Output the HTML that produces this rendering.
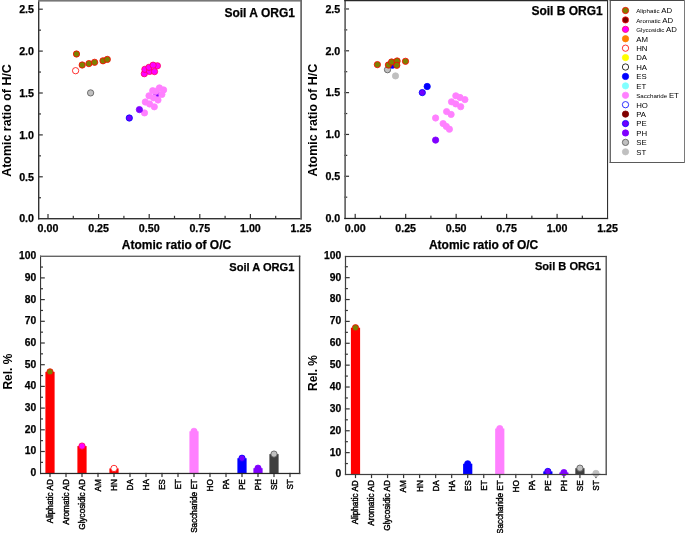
<!DOCTYPE html><html><head><meta charset="utf-8"><style>html,body{margin:0;padding:0;background:#fff;overflow:hidden;}svg{display:block;will-change:transform;}text{font-family:"Liberation Sans",sans-serif;fill:#000;}</style></head><body>
<svg width="685" height="533" viewBox="0 0 685 533">
<rect width="685" height="533" fill="#fff"/>
<rect x="47.4" y="214" width="1.2" height="4.5" fill="#333"/>
<rect x="72.7" y="215.8" width="1.2" height="2.7" fill="#333"/>
<rect x="98" y="214" width="1.2" height="4.5" fill="#333"/>
<rect x="123.3" y="215.8" width="1.2" height="2.7" fill="#333"/>
<rect x="148.6" y="214" width="1.2" height="4.5" fill="#333"/>
<rect x="173.9" y="215.8" width="1.2" height="2.7" fill="#333"/>
<rect x="199.2" y="214" width="1.2" height="4.5" fill="#333"/>
<rect x="224.5" y="215.8" width="1.2" height="2.7" fill="#333"/>
<rect x="249.8" y="214" width="1.2" height="4.5" fill="#333"/>
<rect x="275.1" y="215.8" width="1.2" height="2.7" fill="#333"/>
<text x="48" y="231.6" font-size="10.7" font-weight="bold" text-anchor="middle" stroke="#000" stroke-width="0.25" stroke-linejoin="round" >0.00</text>
<text x="98.6" y="231.6" font-size="10.7" font-weight="bold" text-anchor="middle" stroke="#000" stroke-width="0.25" stroke-linejoin="round" >0.25</text>
<text x="149.2" y="231.6" font-size="10.7" font-weight="bold" text-anchor="middle" stroke="#000" stroke-width="0.25" stroke-linejoin="round" >0.50</text>
<text x="199.8" y="231.6" font-size="10.7" font-weight="bold" text-anchor="middle" stroke="#000" stroke-width="0.25" stroke-linejoin="round" >0.75</text>
<text x="250.4" y="231.6" font-size="10.7" font-weight="bold" text-anchor="middle" stroke="#000" stroke-width="0.25" stroke-linejoin="round" >1.00</text>
<text x="301" y="231.6" font-size="10.7" font-weight="bold" text-anchor="middle" stroke="#000" stroke-width="0.25" stroke-linejoin="round" >1.25</text>
<rect x="38" y="197.15" width="3" height="1.2" fill="#333"/>
<rect x="38" y="176.2" width="4.8" height="1.2" fill="#333"/>
<rect x="38" y="155.25" width="3" height="1.2" fill="#333"/>
<rect x="38" y="134.3" width="4.8" height="1.2" fill="#333"/>
<rect x="38" y="113.35" width="3" height="1.2" fill="#333"/>
<rect x="38" y="92.4" width="4.8" height="1.2" fill="#333"/>
<rect x="38" y="71.45" width="3" height="1.2" fill="#333"/>
<rect x="38" y="50.5" width="4.8" height="1.2" fill="#333"/>
<rect x="38" y="29.55" width="3" height="1.2" fill="#333"/>
<rect x="38" y="8.6" width="4.8" height="1.2" fill="#333"/>
<text x="34" y="222.45" font-size="10.7" font-weight="bold" text-anchor="end" stroke="#000" stroke-width="0.25" stroke-linejoin="round" >0.0</text>
<text x="34" y="180.55" font-size="10.7" font-weight="bold" text-anchor="end" stroke="#000" stroke-width="0.25" stroke-linejoin="round" >0.5</text>
<text x="34" y="138.65" font-size="10.7" font-weight="bold" text-anchor="end" stroke="#000" stroke-width="0.25" stroke-linejoin="round" >1.0</text>
<text x="34" y="96.75" font-size="10.7" font-weight="bold" text-anchor="end" stroke="#000" stroke-width="0.25" stroke-linejoin="round" >1.5</text>
<text x="34" y="54.85" font-size="10.7" font-weight="bold" text-anchor="end" stroke="#000" stroke-width="0.25" stroke-linejoin="round" >2.0</text>
<text x="34" y="12.95" font-size="10.7" font-weight="bold" text-anchor="end" stroke="#000" stroke-width="0.25" stroke-linejoin="round" >2.5</text>
<text x="294.9" y="16.6" font-size="12.0" font-weight="bold" text-anchor="end" stroke="#000" stroke-width="0.25" stroke-linejoin="round" >Soil A ORG1</text>
<text x="176.5" y="249" font-size="12.0" font-weight="bold" text-anchor="middle" stroke="#000" stroke-width="0.25" stroke-linejoin="round" >Atomic ratio of O/C</text>
<text x="0" y="0" font-size="12.45" font-weight="bold" text-anchor="middle" transform="translate(10.8 120.5) rotate(-90)">Atomic ratio of H/C</text>
<circle cx="90.6" cy="92.9" r="3.15" fill="#c0c0c0" stroke="#555555" stroke-width="0.8"/>
<circle cx="75.6" cy="70.7" r="3.15" fill="#ffffff" stroke="#ff0000" stroke-width="0.8"/>
<circle cx="76.5" cy="54" r="3.15" fill="#7f7f00" stroke="#ff0000" stroke-width="0.8"/>
<circle cx="82.2" cy="65" r="3.15" fill="#7f7f00" stroke="#ff0000" stroke-width="0.8"/>
<circle cx="88.9" cy="63.6" r="3.15" fill="#7f7f00" stroke="#ff0000" stroke-width="0.8"/>
<circle cx="94.6" cy="62.3" r="3.15" fill="#7f7f00" stroke="#ff0000" stroke-width="0.8"/>
<circle cx="103" cy="60.8" r="3.15" fill="#7f7f00" stroke="#ff0000" stroke-width="0.8"/>
<circle cx="107.3" cy="59.4" r="3.15" fill="#7f7f00" stroke="#ff0000" stroke-width="0.8"/>
<circle cx="156.6" cy="93.8" r="3.15" fill="#8000ff" stroke="#8000ff" stroke-width="0.8"/>
<circle cx="144.5" cy="112.9" r="3.15" fill="#ff80ff" stroke="#ff80ff" stroke-width="0.8"/>
<circle cx="145.3" cy="102" r="3.15" fill="#ff80ff" stroke="#ff80ff" stroke-width="0.8"/>
<circle cx="149.6" cy="104" r="3.15" fill="#ff80ff" stroke="#ff80ff" stroke-width="0.8"/>
<circle cx="154.3" cy="106.8" r="3.15" fill="#ff80ff" stroke="#ff80ff" stroke-width="0.8"/>
<circle cx="149" cy="95.8" r="3.15" fill="#ff80ff" stroke="#ff80ff" stroke-width="0.8"/>
<circle cx="152.7" cy="90.7" r="3.15" fill="#ff80ff" stroke="#ff80ff" stroke-width="0.8"/>
<circle cx="158" cy="100" r="3.15" fill="#ff80ff" stroke="#ff80ff" stroke-width="0.8"/>
<circle cx="153.5" cy="97.8" r="3.15" fill="#ff80ff" stroke="#ff80ff" stroke-width="0.8"/>
<circle cx="161.9" cy="94.4" r="3.15" fill="#ff80ff" stroke="#ff80ff" stroke-width="0.8"/>
<circle cx="159.4" cy="87.9" r="3.15" fill="#ff80ff" stroke="#ff80ff" stroke-width="0.8"/>
<circle cx="163.6" cy="89.9" r="3.15" fill="#ff80ff" stroke="#ff80ff" stroke-width="0.8"/>
<circle cx="155.8" cy="91.3" r="3.15" fill="#ff80ff" stroke="#ff80ff" stroke-width="0.8"/>
<circle cx="129.3" cy="118" r="3.15" fill="#7000ff" stroke="#0000ff" stroke-width="0.8"/>
<circle cx="139.4" cy="109.6" r="3.15" fill="#8000ff" stroke="#8000ff" stroke-width="0.8"/>
<circle cx="144.3" cy="73.7" r="3.15" fill="#ff00ff" stroke="#ff0060" stroke-width="0.8"/>
<circle cx="144.9" cy="69.3" r="3.15" fill="#ff00ff" stroke="#ff0060" stroke-width="0.8"/>
<circle cx="149.6" cy="71.4" r="3.15" fill="#ff00ff" stroke="#ff0060" stroke-width="0.8"/>
<circle cx="149" cy="67.3" r="3.15" fill="#ff00ff" stroke="#ff0060" stroke-width="0.8"/>
<circle cx="154.5" cy="71.6" r="3.15" fill="#ff00ff" stroke="#ff0060" stroke-width="0.8"/>
<circle cx="157.4" cy="65.8" r="3.15" fill="#ff00ff" stroke="#ff0060" stroke-width="0.8"/>
<circle cx="153.1" cy="65.2" r="3.15" fill="#ff00ff" stroke="#ff0060" stroke-width="0.8"/>
<rect x="38" y="0" width="1.4" height="219.4" fill="#333"/>
<rect x="38" y="218" width="264" height="1.4" fill="#333"/>
<rect x="38" y="0" width="264" height="1.6" fill="#777"/>
<rect x="300.25" y="0" width="1.75" height="219.4" fill="#6a6a6a"/>
<rect x="354.6" y="213.85" width="1.2" height="4.5" fill="#333"/>
<rect x="379.84" y="215.65" width="1.2" height="2.7" fill="#333"/>
<rect x="405.07" y="213.85" width="1.2" height="4.5" fill="#333"/>
<rect x="430.31" y="215.65" width="1.2" height="2.7" fill="#333"/>
<rect x="455.55" y="213.85" width="1.2" height="4.5" fill="#333"/>
<rect x="480.79" y="215.65" width="1.2" height="2.7" fill="#333"/>
<rect x="506.02" y="213.85" width="1.2" height="4.5" fill="#333"/>
<rect x="531.26" y="215.65" width="1.2" height="2.7" fill="#333"/>
<rect x="556.5" y="213.85" width="1.2" height="4.5" fill="#333"/>
<rect x="581.74" y="215.65" width="1.2" height="2.7" fill="#333"/>
<text x="355.2" y="231.5" font-size="10.7" font-weight="bold" text-anchor="middle" stroke="#000" stroke-width="0.25" stroke-linejoin="round" >0.00</text>
<text x="405.68" y="231.5" font-size="10.7" font-weight="bold" text-anchor="middle" stroke="#000" stroke-width="0.25" stroke-linejoin="round" >0.25</text>
<text x="456.15" y="231.5" font-size="10.7" font-weight="bold" text-anchor="middle" stroke="#000" stroke-width="0.25" stroke-linejoin="round" >0.50</text>
<text x="506.62" y="231.5" font-size="10.7" font-weight="bold" text-anchor="middle" stroke="#000" stroke-width="0.25" stroke-linejoin="round" >0.75</text>
<text x="557.1" y="231.5" font-size="10.7" font-weight="bold" text-anchor="middle" stroke="#000" stroke-width="0.25" stroke-linejoin="round" >1.00</text>
<text x="607.58" y="231.5" font-size="10.7" font-weight="bold" text-anchor="middle" stroke="#000" stroke-width="0.25" stroke-linejoin="round" >1.25</text>
<rect x="344.25" y="196.59" width="3" height="1.2" fill="#333"/>
<rect x="344.25" y="175.67" width="4.8" height="1.2" fill="#333"/>
<rect x="344.25" y="154.76" width="3" height="1.2" fill="#333"/>
<rect x="344.25" y="133.85" width="4.8" height="1.2" fill="#333"/>
<rect x="344.25" y="112.94" width="3" height="1.2" fill="#333"/>
<rect x="344.25" y="92.02" width="4.8" height="1.2" fill="#333"/>
<rect x="344.25" y="71.11" width="3" height="1.2" fill="#333"/>
<rect x="344.25" y="50.2" width="4.8" height="1.2" fill="#333"/>
<rect x="344.25" y="29.29" width="3" height="1.2" fill="#333"/>
<rect x="344.25" y="8.37" width="4.8" height="1.2" fill="#333"/>
<text x="340.25" y="221.85" font-size="10.7" font-weight="bold" text-anchor="end" stroke="#000" stroke-width="0.25" stroke-linejoin="round" >0.0</text>
<text x="340.25" y="180.02" font-size="10.7" font-weight="bold" text-anchor="end" stroke="#000" stroke-width="0.25" stroke-linejoin="round" >0.5</text>
<text x="340.25" y="138.2" font-size="10.7" font-weight="bold" text-anchor="end" stroke="#000" stroke-width="0.25" stroke-linejoin="round" >1.0</text>
<text x="340.25" y="96.37" font-size="10.7" font-weight="bold" text-anchor="end" stroke="#000" stroke-width="0.25" stroke-linejoin="round" >1.5</text>
<text x="340.25" y="54.55" font-size="10.7" font-weight="bold" text-anchor="end" stroke="#000" stroke-width="0.25" stroke-linejoin="round" >2.0</text>
<text x="340.25" y="12.72" font-size="10.7" font-weight="bold" text-anchor="end" stroke="#000" stroke-width="0.25" stroke-linejoin="round" >2.5</text>
<text x="602.8" y="15.2" font-size="12.0" font-weight="bold" text-anchor="end" stroke="#000" stroke-width="0.25" stroke-linejoin="round" >Soil B ORG1</text>
<text x="483.6" y="249" font-size="12.0" font-weight="bold" text-anchor="middle" stroke="#000" stroke-width="0.25" stroke-linejoin="round" >Atomic ratio of O/C</text>
<text x="0" y="0" font-size="12.45" font-weight="bold" text-anchor="middle" transform="translate(317.3 120.2) rotate(-90)">Atomic ratio of H/C</text>
<circle cx="387.5" cy="69.7" r="3.15" fill="#c0c0c0" stroke="#555555" stroke-width="0.8"/>
<circle cx="395.5" cy="75.9" r="3.15" fill="#c0c0c0" stroke="#c0c0c0" stroke-width="0.8"/>
<circle cx="392.4" cy="65.2" r="3.15" fill="#0000ff" stroke="#0000ff" stroke-width="0.8"/>
<circle cx="377.4" cy="64.6" r="3.15" fill="#7f7f00" stroke="#ff0000" stroke-width="0.8"/>
<circle cx="388.4" cy="65" r="3.15" fill="#7f7f00" stroke="#ff0000" stroke-width="0.8"/>
<circle cx="391.6" cy="62" r="3.15" fill="#7f7f00" stroke="#ff0000" stroke-width="0.8"/>
<circle cx="397.1" cy="61" r="3.15" fill="#7f7f00" stroke="#ff0000" stroke-width="0.8"/>
<circle cx="396.8" cy="65.3" r="3.15" fill="#7f7f00" stroke="#ff0000" stroke-width="0.8"/>
<circle cx="405.5" cy="61.3" r="3.15" fill="#7f7f00" stroke="#ff0000" stroke-width="0.8"/>
<circle cx="427.2" cy="86.5" r="3.15" fill="#0000ff" stroke="#0000ff" stroke-width="0.8"/>
<circle cx="422.3" cy="92.6" r="3.15" fill="#7000ff" stroke="#0000ff" stroke-width="0.8"/>
<circle cx="435.6" cy="118" r="3.15" fill="#ff80ff" stroke="#ff80ff" stroke-width="0.8"/>
<circle cx="443.1" cy="123.6" r="3.15" fill="#ff80ff" stroke="#ff80ff" stroke-width="0.8"/>
<circle cx="446.3" cy="126.4" r="3.15" fill="#ff80ff" stroke="#ff80ff" stroke-width="0.8"/>
<circle cx="449.4" cy="129.2" r="3.15" fill="#ff80ff" stroke="#ff80ff" stroke-width="0.8"/>
<circle cx="446.6" cy="111.6" r="3.15" fill="#ff80ff" stroke="#ff80ff" stroke-width="0.8"/>
<circle cx="451.1" cy="114.4" r="3.15" fill="#ff80ff" stroke="#ff80ff" stroke-width="0.8"/>
<circle cx="451.5" cy="101.8" r="3.15" fill="#ff80ff" stroke="#ff80ff" stroke-width="0.8"/>
<circle cx="455.8" cy="103.9" r="3.15" fill="#ff80ff" stroke="#ff80ff" stroke-width="0.8"/>
<circle cx="460.7" cy="106.7" r="3.15" fill="#ff80ff" stroke="#ff80ff" stroke-width="0.8"/>
<circle cx="455.8" cy="95.8" r="3.15" fill="#ff80ff" stroke="#ff80ff" stroke-width="0.8"/>
<circle cx="460" cy="97.5" r="3.15" fill="#ff80ff" stroke="#ff80ff" stroke-width="0.8"/>
<circle cx="464.9" cy="99.6" r="3.15" fill="#ff80ff" stroke="#ff80ff" stroke-width="0.8"/>
<circle cx="435.6" cy="140.1" r="3.15" fill="#8000ff" stroke="#8000ff" stroke-width="0.8"/>
<rect x="344.25" y="0" width="1.75" height="219.1" fill="#6a6a6a"/>
<rect x="344.25" y="217.85" width="263.85" height="1.25" fill="#222"/>
<rect x="344.25" y="0" width="263.85" height="1.25" fill="#282828"/>
<rect x="607" y="0" width="1.1" height="219.1" fill="#303030"/>
<rect x="40" y="461.75" width="3" height="1.2" fill="#333"/>
<rect x="40" y="450.9" width="4.8" height="1.2" fill="#333"/>
<rect x="40" y="440.05" width="3" height="1.2" fill="#333"/>
<rect x="40" y="429.2" width="4.8" height="1.2" fill="#333"/>
<rect x="40" y="418.35" width="3" height="1.2" fill="#333"/>
<rect x="40" y="407.5" width="4.8" height="1.2" fill="#333"/>
<rect x="40" y="396.65" width="3" height="1.2" fill="#333"/>
<rect x="40" y="385.8" width="4.8" height="1.2" fill="#333"/>
<rect x="40" y="374.95" width="3" height="1.2" fill="#333"/>
<rect x="40" y="364.1" width="4.8" height="1.2" fill="#333"/>
<rect x="40" y="353.25" width="3" height="1.2" fill="#333"/>
<rect x="40" y="342.4" width="4.8" height="1.2" fill="#333"/>
<rect x="40" y="331.55" width="3" height="1.2" fill="#333"/>
<rect x="40" y="320.7" width="4.8" height="1.2" fill="#333"/>
<rect x="40" y="309.85" width="3" height="1.2" fill="#333"/>
<rect x="40" y="299" width="4.8" height="1.2" fill="#333"/>
<rect x="40" y="288.15" width="3" height="1.2" fill="#333"/>
<rect x="40" y="277.3" width="4.8" height="1.2" fill="#333"/>
<rect x="40" y="266.45" width="3" height="1.2" fill="#333"/>
<text x="36.3" y="476.15" font-size="10.3" font-weight="bold" text-anchor="end" stroke="#000" stroke-width="0.25" stroke-linejoin="round" >0</text>
<text x="36.3" y="454.45" font-size="10.3" font-weight="bold" text-anchor="end" stroke="#000" stroke-width="0.25" stroke-linejoin="round" >10</text>
<text x="36.3" y="432.75" font-size="10.3" font-weight="bold" text-anchor="end" stroke="#000" stroke-width="0.25" stroke-linejoin="round" >20</text>
<text x="36.3" y="411.05" font-size="10.3" font-weight="bold" text-anchor="end" stroke="#000" stroke-width="0.25" stroke-linejoin="round" >30</text>
<text x="36.3" y="389.35" font-size="10.3" font-weight="bold" text-anchor="end" stroke="#000" stroke-width="0.25" stroke-linejoin="round" >40</text>
<text x="36.3" y="367.65" font-size="10.3" font-weight="bold" text-anchor="end" stroke="#000" stroke-width="0.25" stroke-linejoin="round" >50</text>
<text x="36.3" y="345.95" font-size="10.3" font-weight="bold" text-anchor="end" stroke="#000" stroke-width="0.25" stroke-linejoin="round" >60</text>
<text x="36.3" y="324.25" font-size="10.3" font-weight="bold" text-anchor="end" stroke="#000" stroke-width="0.25" stroke-linejoin="round" >70</text>
<text x="36.3" y="302.55" font-size="10.3" font-weight="bold" text-anchor="end" stroke="#000" stroke-width="0.25" stroke-linejoin="round" >80</text>
<text x="36.3" y="280.85" font-size="10.3" font-weight="bold" text-anchor="end" stroke="#000" stroke-width="0.25" stroke-linejoin="round" >90</text>
<text x="36.3" y="259.15" font-size="10.3" font-weight="bold" text-anchor="end" stroke="#000" stroke-width="0.25" stroke-linejoin="round" >100</text>
<rect x="49.4" y="472.85" width="1.2" height="4.2" fill="#333"/>
<text x="0" y="0" font-size="8.2" text-anchor="end" stroke="#000" stroke-width="0.4" transform="translate(52.9 479.15) rotate(-90)">Aliphatic AD</text>
<rect x="65.4" y="472.85" width="1.2" height="4.2" fill="#333"/>
<text x="0" y="0" font-size="8.2" text-anchor="end" stroke="#000" stroke-width="0.4" transform="translate(68.9 479.15) rotate(-90)">Aromatic AD</text>
<rect x="81.4" y="472.85" width="1.2" height="4.2" fill="#333"/>
<text x="0" y="0" font-size="8.2" text-anchor="end" stroke="#000" stroke-width="0.4" transform="translate(84.9 479.15) rotate(-90)">Glycosidic AD</text>
<rect x="97.4" y="472.85" width="1.2" height="4.2" fill="#333"/>
<text x="0" y="0" font-size="8.2" text-anchor="end" stroke="#000" stroke-width="0.4" transform="translate(100.9 479.15) rotate(-90)">AM</text>
<rect x="113.4" y="472.85" width="1.2" height="4.2" fill="#333"/>
<text x="0" y="0" font-size="8.2" text-anchor="end" stroke="#000" stroke-width="0.4" transform="translate(116.9 479.15) rotate(-90)">HN</text>
<rect x="129.4" y="472.85" width="1.2" height="4.2" fill="#333"/>
<text x="0" y="0" font-size="8.2" text-anchor="end" stroke="#000" stroke-width="0.4" transform="translate(132.9 479.15) rotate(-90)">DA</text>
<rect x="145.4" y="472.85" width="1.2" height="4.2" fill="#333"/>
<text x="0" y="0" font-size="8.2" text-anchor="end" stroke="#000" stroke-width="0.4" transform="translate(148.9 479.15) rotate(-90)">HA</text>
<rect x="161.4" y="472.85" width="1.2" height="4.2" fill="#333"/>
<text x="0" y="0" font-size="8.2" text-anchor="end" stroke="#000" stroke-width="0.4" transform="translate(164.9 479.15) rotate(-90)">ES</text>
<rect x="177.4" y="472.85" width="1.2" height="4.2" fill="#333"/>
<text x="0" y="0" font-size="8.2" text-anchor="end" stroke="#000" stroke-width="0.4" transform="translate(180.9 479.15) rotate(-90)">ET</text>
<rect x="193.4" y="472.85" width="1.2" height="4.2" fill="#333"/>
<text x="0" y="0" font-size="8.2" text-anchor="end" stroke="#000" stroke-width="0.4" transform="translate(196.9 479.15) rotate(-90)">Saccharide ET</text>
<rect x="209.4" y="472.85" width="1.2" height="4.2" fill="#333"/>
<text x="0" y="0" font-size="8.2" text-anchor="end" stroke="#000" stroke-width="0.4" transform="translate(212.9 479.15) rotate(-90)">HO</text>
<rect x="225.4" y="472.85" width="1.2" height="4.2" fill="#333"/>
<text x="0" y="0" font-size="8.2" text-anchor="end" stroke="#000" stroke-width="0.4" transform="translate(228.9 479.15) rotate(-90)">PA</text>
<rect x="241.4" y="472.85" width="1.2" height="4.2" fill="#333"/>
<text x="0" y="0" font-size="8.2" text-anchor="end" stroke="#000" stroke-width="0.4" transform="translate(244.9 479.15) rotate(-90)">PE</text>
<rect x="257.4" y="472.85" width="1.2" height="4.2" fill="#333"/>
<text x="0" y="0" font-size="8.2" text-anchor="end" stroke="#000" stroke-width="0.4" transform="translate(260.9 479.15) rotate(-90)">PH</text>
<rect x="273.4" y="472.85" width="1.2" height="4.2" fill="#333"/>
<text x="0" y="0" font-size="8.2" text-anchor="end" stroke="#000" stroke-width="0.4" transform="translate(276.9 479.15) rotate(-90)">SE</text>
<rect x="289.4" y="472.85" width="1.2" height="4.2" fill="#333"/>
<text x="0" y="0" font-size="8.2" text-anchor="end" stroke="#000" stroke-width="0.4" transform="translate(292.9 479.15) rotate(-90)">ST</text>
<text x="294.4" y="271" font-size="11.1" font-weight="bold" text-anchor="end" stroke="#000" stroke-width="0.25" stroke-linejoin="round" >Soil A ORG1</text>
<text x="0" y="0" font-size="12" font-weight="bold" text-anchor="middle" transform="translate(12.4 371.6) rotate(-90)">Rel. %</text>
<rect x="45.4" y="371.86" width="9.2" height="101.34" fill="#ff0000"/>
<circle cx="50" cy="371.86" r="3.15" fill="#7f7f00" stroke="#ff0000" stroke-width="0.8"/>
<rect x="77.4" y="446.07" width="9.2" height="27.12" fill="#ff0000"/>
<circle cx="82" cy="446.07" r="3.15" fill="#ff00ff" stroke="#ff0060" stroke-width="0.8"/>
<rect x="109.4" y="468.43" width="9.2" height="4.77" fill="#ff0000"/>
<circle cx="114" cy="468.43" r="3.15" fill="#ffffff" stroke="#ff0000" stroke-width="0.8"/>
<rect x="189.4" y="431.32" width="9.2" height="41.88" fill="#ff80ff"/>
<circle cx="194" cy="431.32" r="3.15" fill="#ff80ff" stroke="#ff80ff" stroke-width="0.8"/>
<rect x="237.4" y="458.23" width="9.2" height="14.97" fill="#0000ff"/>
<circle cx="242" cy="458.23" r="3.15" fill="#7000ff" stroke="#0000ff" stroke-width="0.8"/>
<rect x="253.4" y="468.21" width="9.2" height="4.99" fill="#8000ff"/>
<circle cx="258" cy="468.21" r="3.15" fill="#8000ff" stroke="#8000ff" stroke-width="0.8"/>
<rect x="269.4" y="454.1" width="9.2" height="19.1" fill="#404040"/>
<circle cx="274" cy="454.1" r="3.15" fill="#c0c0c0" stroke="#555555" stroke-width="0.8"/>
<rect x="40" y="255.6" width="1.1" height="218.5" fill="#383838"/>
<rect x="40" y="472.85" width="260.3" height="1.25" fill="#282828"/>
<rect x="40" y="255.6" width="260.3" height="1.4" fill="#656565"/>
<rect x="298.9" y="255.6" width="1.4" height="218.5" fill="#3a3a3a"/>
<rect x="344.9" y="462.96" width="3" height="1.2" fill="#333"/>
<rect x="344.9" y="452.03" width="4.8" height="1.2" fill="#333"/>
<rect x="344.9" y="441.09" width="3" height="1.2" fill="#333"/>
<rect x="344.9" y="430.16" width="4.8" height="1.2" fill="#333"/>
<rect x="344.9" y="419.22" width="3" height="1.2" fill="#333"/>
<rect x="344.9" y="408.29" width="4.8" height="1.2" fill="#333"/>
<rect x="344.9" y="397.36" width="3" height="1.2" fill="#333"/>
<rect x="344.9" y="386.42" width="4.8" height="1.2" fill="#333"/>
<rect x="344.9" y="375.49" width="3" height="1.2" fill="#333"/>
<rect x="344.9" y="364.55" width="4.8" height="1.2" fill="#333"/>
<rect x="344.9" y="353.62" width="3" height="1.2" fill="#333"/>
<rect x="344.9" y="342.68" width="4.8" height="1.2" fill="#333"/>
<rect x="344.9" y="331.75" width="3" height="1.2" fill="#333"/>
<rect x="344.9" y="320.81" width="4.8" height="1.2" fill="#333"/>
<rect x="344.9" y="309.88" width="3" height="1.2" fill="#333"/>
<rect x="344.9" y="298.94" width="4.8" height="1.2" fill="#333"/>
<rect x="344.9" y="288" width="3" height="1.2" fill="#333"/>
<rect x="344.9" y="277.07" width="4.8" height="1.2" fill="#333"/>
<rect x="344.9" y="266.13" width="3" height="1.2" fill="#333"/>
<text x="341.3" y="477.45" font-size="10.3" font-weight="bold" text-anchor="end" stroke="#000" stroke-width="0.25" stroke-linejoin="round" >0</text>
<text x="341.3" y="455.58" font-size="10.3" font-weight="bold" text-anchor="end" stroke="#000" stroke-width="0.25" stroke-linejoin="round" >10</text>
<text x="341.3" y="433.71" font-size="10.3" font-weight="bold" text-anchor="end" stroke="#000" stroke-width="0.25" stroke-linejoin="round" >20</text>
<text x="341.3" y="411.84" font-size="10.3" font-weight="bold" text-anchor="end" stroke="#000" stroke-width="0.25" stroke-linejoin="round" >30</text>
<text x="341.3" y="389.97" font-size="10.3" font-weight="bold" text-anchor="end" stroke="#000" stroke-width="0.25" stroke-linejoin="round" >40</text>
<text x="341.3" y="368.1" font-size="10.3" font-weight="bold" text-anchor="end" stroke="#000" stroke-width="0.25" stroke-linejoin="round" >50</text>
<text x="341.3" y="346.23" font-size="10.3" font-weight="bold" text-anchor="end" stroke="#000" stroke-width="0.25" stroke-linejoin="round" >60</text>
<text x="341.3" y="324.36" font-size="10.3" font-weight="bold" text-anchor="end" stroke="#000" stroke-width="0.25" stroke-linejoin="round" >70</text>
<text x="341.3" y="302.49" font-size="10.3" font-weight="bold" text-anchor="end" stroke="#000" stroke-width="0.25" stroke-linejoin="round" >80</text>
<text x="341.3" y="280.62" font-size="10.3" font-weight="bold" text-anchor="end" stroke="#000" stroke-width="0.25" stroke-linejoin="round" >90</text>
<text x="341.3" y="258.75" font-size="10.3" font-weight="bold" text-anchor="end" stroke="#000" stroke-width="0.25" stroke-linejoin="round" >100</text>
<rect x="354.9" y="473.9" width="1.2" height="4.2" fill="#333"/>
<text x="0" y="0" font-size="8.2" text-anchor="end" stroke="#000" stroke-width="0.4" transform="translate(358.4 480.2) rotate(-90)">Aliphatic AD</text>
<rect x="370.93" y="473.9" width="1.2" height="4.2" fill="#333"/>
<text x="0" y="0" font-size="8.2" text-anchor="end" stroke="#000" stroke-width="0.4" transform="translate(374.43 480.2) rotate(-90)">Aromatic AD</text>
<rect x="386.96" y="473.9" width="1.2" height="4.2" fill="#333"/>
<text x="0" y="0" font-size="8.2" text-anchor="end" stroke="#000" stroke-width="0.4" transform="translate(390.46 480.2) rotate(-90)">Glycosidic AD</text>
<rect x="402.99" y="473.9" width="1.2" height="4.2" fill="#333"/>
<text x="0" y="0" font-size="8.2" text-anchor="end" stroke="#000" stroke-width="0.4" transform="translate(406.49 480.2) rotate(-90)">AM</text>
<rect x="419.02" y="473.9" width="1.2" height="4.2" fill="#333"/>
<text x="0" y="0" font-size="8.2" text-anchor="end" stroke="#000" stroke-width="0.4" transform="translate(422.52 480.2) rotate(-90)">HN</text>
<rect x="435.05" y="473.9" width="1.2" height="4.2" fill="#333"/>
<text x="0" y="0" font-size="8.2" text-anchor="end" stroke="#000" stroke-width="0.4" transform="translate(438.55 480.2) rotate(-90)">DA</text>
<rect x="451.08" y="473.9" width="1.2" height="4.2" fill="#333"/>
<text x="0" y="0" font-size="8.2" text-anchor="end" stroke="#000" stroke-width="0.4" transform="translate(454.58 480.2) rotate(-90)">HA</text>
<rect x="467.11" y="473.9" width="1.2" height="4.2" fill="#333"/>
<text x="0" y="0" font-size="8.2" text-anchor="end" stroke="#000" stroke-width="0.4" transform="translate(470.61 480.2) rotate(-90)">ES</text>
<rect x="483.14" y="473.9" width="1.2" height="4.2" fill="#333"/>
<text x="0" y="0" font-size="8.2" text-anchor="end" stroke="#000" stroke-width="0.4" transform="translate(486.64 480.2) rotate(-90)">ET</text>
<rect x="499.17" y="473.9" width="1.2" height="4.2" fill="#333"/>
<text x="0" y="0" font-size="8.2" text-anchor="end" stroke="#000" stroke-width="0.4" transform="translate(502.67 480.2) rotate(-90)">Saccharide ET</text>
<rect x="515.2" y="473.9" width="1.2" height="4.2" fill="#333"/>
<text x="0" y="0" font-size="8.2" text-anchor="end" stroke="#000" stroke-width="0.4" transform="translate(518.7 480.2) rotate(-90)">HO</text>
<rect x="531.23" y="473.9" width="1.2" height="4.2" fill="#333"/>
<text x="0" y="0" font-size="8.2" text-anchor="end" stroke="#000" stroke-width="0.4" transform="translate(534.73 480.2) rotate(-90)">PA</text>
<rect x="547.26" y="473.9" width="1.2" height="4.2" fill="#333"/>
<text x="0" y="0" font-size="8.2" text-anchor="end" stroke="#000" stroke-width="0.4" transform="translate(550.76 480.2) rotate(-90)">PE</text>
<rect x="563.29" y="473.9" width="1.2" height="4.2" fill="#333"/>
<text x="0" y="0" font-size="8.2" text-anchor="end" stroke="#000" stroke-width="0.4" transform="translate(566.79 480.2) rotate(-90)">PH</text>
<rect x="579.32" y="473.9" width="1.2" height="4.2" fill="#333"/>
<text x="0" y="0" font-size="8.2" text-anchor="end" stroke="#000" stroke-width="0.4" transform="translate(582.82 480.2) rotate(-90)">SE</text>
<rect x="595.35" y="473.9" width="1.2" height="4.2" fill="#333"/>
<text x="0" y="0" font-size="8.2" text-anchor="end" stroke="#000" stroke-width="0.4" transform="translate(598.85 480.2) rotate(-90)">ST</text>
<text x="600.9" y="270.3" font-size="11.1" font-weight="bold" text-anchor="end" stroke="#000" stroke-width="0.25" stroke-linejoin="round" >Soil B ORG1</text>
<text x="0" y="0" font-size="12" font-weight="bold" text-anchor="middle" transform="translate(317.4 373) rotate(-90)">Rel. %</text>
<rect x="350.9" y="327.75" width="9.2" height="146.75" fill="#ff0000"/>
<circle cx="355.5" cy="327.75" r="3.15" fill="#7f7f00" stroke="#ff0000" stroke-width="0.8"/>
<rect x="463.11" y="463.78" width="9.2" height="10.72" fill="#0000ff"/>
<circle cx="467.71" cy="463.78" r="3.15" fill="#0000ff" stroke="#0000ff" stroke-width="0.8"/>
<rect x="495.17" y="428.57" width="9.2" height="45.93" fill="#ff80ff"/>
<circle cx="499.77" cy="428.57" r="3.15" fill="#ff80ff" stroke="#ff80ff" stroke-width="0.8"/>
<rect x="543.26" y="471.44" width="9.2" height="3.06" fill="#0000ff"/>
<circle cx="547.86" cy="471.44" r="3.15" fill="#7000ff" stroke="#0000ff" stroke-width="0.8"/>
<rect x="559.29" y="472.53" width="9.2" height="1.97" fill="#8000ff"/>
<circle cx="563.89" cy="472.53" r="3.15" fill="#8000ff" stroke="#8000ff" stroke-width="0.8"/>
<rect x="575.32" y="468.16" width="9.2" height="6.34" fill="#404040"/>
<circle cx="579.92" cy="468.16" r="3.15" fill="#c0c0c0" stroke="#555555" stroke-width="0.8"/>
<rect x="591.35" y="473.41" width="9.2" height="1.09" fill="#c0c0c0"/>
<circle cx="595.95" cy="473.41" r="3.15" fill="#c0c0c0" stroke="#c0c0c0" stroke-width="0.8"/>
<rect x="344.9" y="255.9" width="1.2" height="219.2" fill="#404040"/>
<rect x="344.9" y="473.9" width="262" height="1.2" fill="#404040"/>
<rect x="344.9" y="255.9" width="262" height="1.2" fill="#404040"/>
<rect x="605.5" y="255.9" width="1.4" height="219.2" fill="#505050"/>
<rect x="609.6" y="0" width="75.4" height="163" fill="#fff"/>
<circle cx="625.5" cy="10.5" r="3.15" fill="#7f7f00" stroke="#ff0000" stroke-width="0.8"/>
<text x="636.2" y="13.3" font-size="7.8"><tspan font-size="6.2">Aliphatic </tspan>AD</text>
<circle cx="625.5" cy="19.92" r="3.15" fill="#800000" stroke="#ff2020" stroke-width="0.8"/>
<text x="636.2" y="22.72" font-size="7.8"><tspan font-size="6.2">Aromatic </tspan>AD</text>
<circle cx="625.5" cy="29.34" r="3.15" fill="#ff00ff" stroke="#ff0060" stroke-width="0.8"/>
<text x="636.2" y="32.14" font-size="7.8"><tspan font-size="6.2">Glycosidic </tspan>AD</text>
<circle cx="625.5" cy="38.76" r="3.15" fill="#ff8000" stroke="#ff8000" stroke-width="0.8"/>
<text x="636.2" y="41.56" font-size="7.8">AM</text>
<circle cx="625.5" cy="48.18" r="3.15" fill="#ffffff" stroke="#ff0000" stroke-width="0.8"/>
<text x="636.2" y="50.98" font-size="7.8">HN</text>
<circle cx="625.5" cy="57.6" r="3.15" fill="#ffff00" stroke="#ffff00" stroke-width="0.8"/>
<text x="636.2" y="60.4" font-size="7.8">DA</text>
<circle cx="625.5" cy="67.02" r="3.15" fill="#ffffff" stroke="#000000" stroke-width="0.8"/>
<text x="636.2" y="69.82" font-size="7.8">HA</text>
<circle cx="625.5" cy="76.44" r="3.15" fill="#0000ff" stroke="#0000ff" stroke-width="0.8"/>
<text x="636.2" y="79.24" font-size="7.8">ES</text>
<circle cx="625.5" cy="85.86" r="3.15" fill="#80ffff" stroke="#80ffff" stroke-width="0.8"/>
<text x="636.2" y="88.66" font-size="7.8">ET</text>
<circle cx="625.5" cy="95.28" r="3.15" fill="#ff80ff" stroke="#ff80ff" stroke-width="0.8"/>
<text x="636.2" y="98.08" font-size="7.8"><tspan font-size="6.2">Saccharide </tspan>ET</text>
<circle cx="625.5" cy="104.7" r="3.15" fill="#ffffff" stroke="#0000ff" stroke-width="0.8"/>
<text x="636.2" y="107.5" font-size="7.8">HO</text>
<circle cx="625.5" cy="114.12" r="3.15" fill="#800000" stroke="#800000" stroke-width="0.8"/>
<text x="636.2" y="116.92" font-size="7.8">PA</text>
<circle cx="625.5" cy="123.54" r="3.15" fill="#7000ff" stroke="#0000ff" stroke-width="0.8"/>
<text x="636.2" y="126.34" font-size="7.8">PE</text>
<circle cx="625.5" cy="132.96" r="3.15" fill="#8000ff" stroke="#8000ff" stroke-width="0.8"/>
<text x="636.2" y="135.76" font-size="7.8">PH</text>
<circle cx="625.5" cy="142.38" r="3.15" fill="#c0c0c0" stroke="#555555" stroke-width="0.8"/>
<text x="636.2" y="145.18" font-size="7.8">SE</text>
<circle cx="625.5" cy="151.8" r="3.15" fill="#c0c0c0" stroke="#c0c0c0" stroke-width="0.8"/>
<text x="636.2" y="154.6" font-size="7.8">ST</text>
<rect x="609.6" y="0" width="1.4" height="163" fill="#6a6a6a"/>
<rect x="609.6" y="0" width="75.4" height="1" fill="#484848"/>
<rect x="609.6" y="162" width="75.4" height="1" fill="#5a5a5a"/>
<rect x="684" y="0" width="1" height="163" fill="#7a7a7a"/>
</svg></body></html>
